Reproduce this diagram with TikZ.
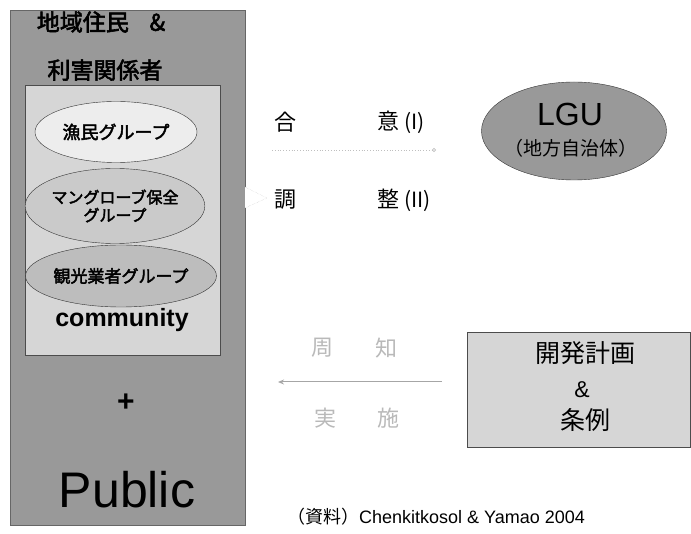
\documentclass[tikz,border=0pt]{standalone}
\usepackage{fontspec}
\setmainfont{Liberation Sans}
\newfontfamily\jpfont[BoldFont={Noto Sans CJK JP}, BoldFeatures={FakeBold=2.5}]{Noto Sans CJK JP}
\usetikzlibrary{shapes.geometric, arrows.meta, positioning}
\definecolor{cdgray}{gray}{0.6}
\definecolor{cmgray}{gray}{0.74}
\definecolor{clgray}{gray}{0.84}
\definecolor{cwgray}{gray}{0.93}
\newcommand{\fsz}[1]{\fontsize{#1}{#1}\selectfont}

\begin{document}
\begin{tikzpicture}[
    x=1pt, y=-1pt,
    outbox/.style={draw=black!60, fill=cdgray, minimum width=235pt, minimum height=515pt, inner sep=0pt},
    inbox/.style={draw=black!70, fill=clgray, minimum width=195pt, minimum height=270pt, inner sep=0pt},
    grpell/.style={ellipse, draw=black!80, minimum width=162pt, inner sep=0pt, align=center, font=\jpfont\bfseries},
    lguell/.style={ellipse, draw=black!80, fill=cdgray, minimum width=185pt, minimum height=98pt, inner sep=0pt},
    planbox/.style={draw=black!70, fill=clgray, minimum width=223pt, minimum height=115pt, inner sep=0pt},
    hdtxt/.style={inner sep=0pt, font=\jpfont\bfseries\fsz{23}},
    midtxt/.style={inner sep=0pt, font=\jpfont\fsz{22}},
    fadetxt/.style={inner sep=0pt, text=gray!55, font=\jpfont\fsz{22}},
    flowline/.style={-{Stealth[length=6pt, width=5pt]}, line width=1pt}
]
% left column
\node[outbox] (pub) at (127.5,267.5) {};
\node[hdtxt] (hd1) at (101,22) {地域住民\hspace{0.9em}\&};
\node[hdtxt] (hd2) at (105,70) {利害関係者};
\node[inbox] (comm) at (122.5,220) {};
\node[grpell, fill=cwgray, minimum height=61pt, font=\jpfont\bfseries\fsz{18}] (g1) at (116,132) {漁民グループ};
\node[grpell, fill=cmgray!80!white, minimum width=164pt, minimum height=75pt, font=\jpfont\bfseries\fsz{16}] (g2) at (115,206) {マングローブ保全\\[2pt]グループ};
\node[grpell, fill=cmgray, minimum height=62pt, font=\jpfont\bfseries\fsz{17}] (g3) at (121,276) {観光業者グループ};
\node[inner sep=0pt, font=\bfseries\fsz{25}] (commlbl) at (122,320) {community};
\node[inner sep=0pt, font=\bfseries\fsz{30}] (plus) at (126,403) {+};
\node[inner sep=0pt, font=\fsz{50}] (publbl) at (127,490) {Public};

% brace tip towards the labels
\coordinate (bt1) at (245,187);
\coordinate (bt2) at (267,198);
\coordinate (bt3) at (245,208);
\draw[gray!45, densely dotted, fill=white] (bt1) -- (bt2) -- (bt3);

% upper labels and arrow
\node[midtxt] (gou) at (285,122) {合};
\node[midtxt] (i1) at (401,122) {意 {\fsz{21}(I)}};
\node[midtxt] (chou) at (285,200) {調};
\node[midtxt] (sei) at (404,200) {整 {\fsz{21}(II)}};
\coordinate (a1) at (272,150);
\coordinate (a2) at (436,150);
\draw[gray!50, dotted, line width=0.8pt, -{Circle[open, length=4pt]}] (a1) -- (a2);

% LGU
\node[lguell] (lgu) at (574,131) {};
\node[inner sep=0pt, font=\fsz{32}] (lgulbl) at (570,114) {LGU};
\node[inner sep=0pt, font=\jpfont\fsz{19}] (lgusub) at (571,148) {（地方自治体）};

% lower labels and arrow
\node[fadetxt] (shu) at (322,348) {周};
\node[fadetxt] (chi) at (386,348) {知};
\node[fadetxt] (jitsu) at (325,418) {実};
\node[fadetxt] (shi) at (388,418) {施};
\node[planbox] (plan) at (578.5,389.5) {};
\node[inner sep=0pt, font=\jpfont\fsz{25}] (plan1) at (585,353) {開発計画};
\node[inner sep=0pt, font=\fsz{23}] (plan2) at (582,390) {\&};
\node[inner sep=0pt, font=\jpfont\fsz{25}] (plan3) at (585,420) {条例};
\coordinate (b1) at (442,382);
\coordinate (b2) at (278,382);
\draw[flowline, gray!70] (b1) -- (b2);

% source
\node[inner sep=0pt, font=\fsz{18}] (src) at (436,517) {{\jpfont （資料）}Chenkitkosol \& Yamao 2004};

\useasboundingbox (0,0) rectangle (691,534);
\end{tikzpicture}
\end{document}
